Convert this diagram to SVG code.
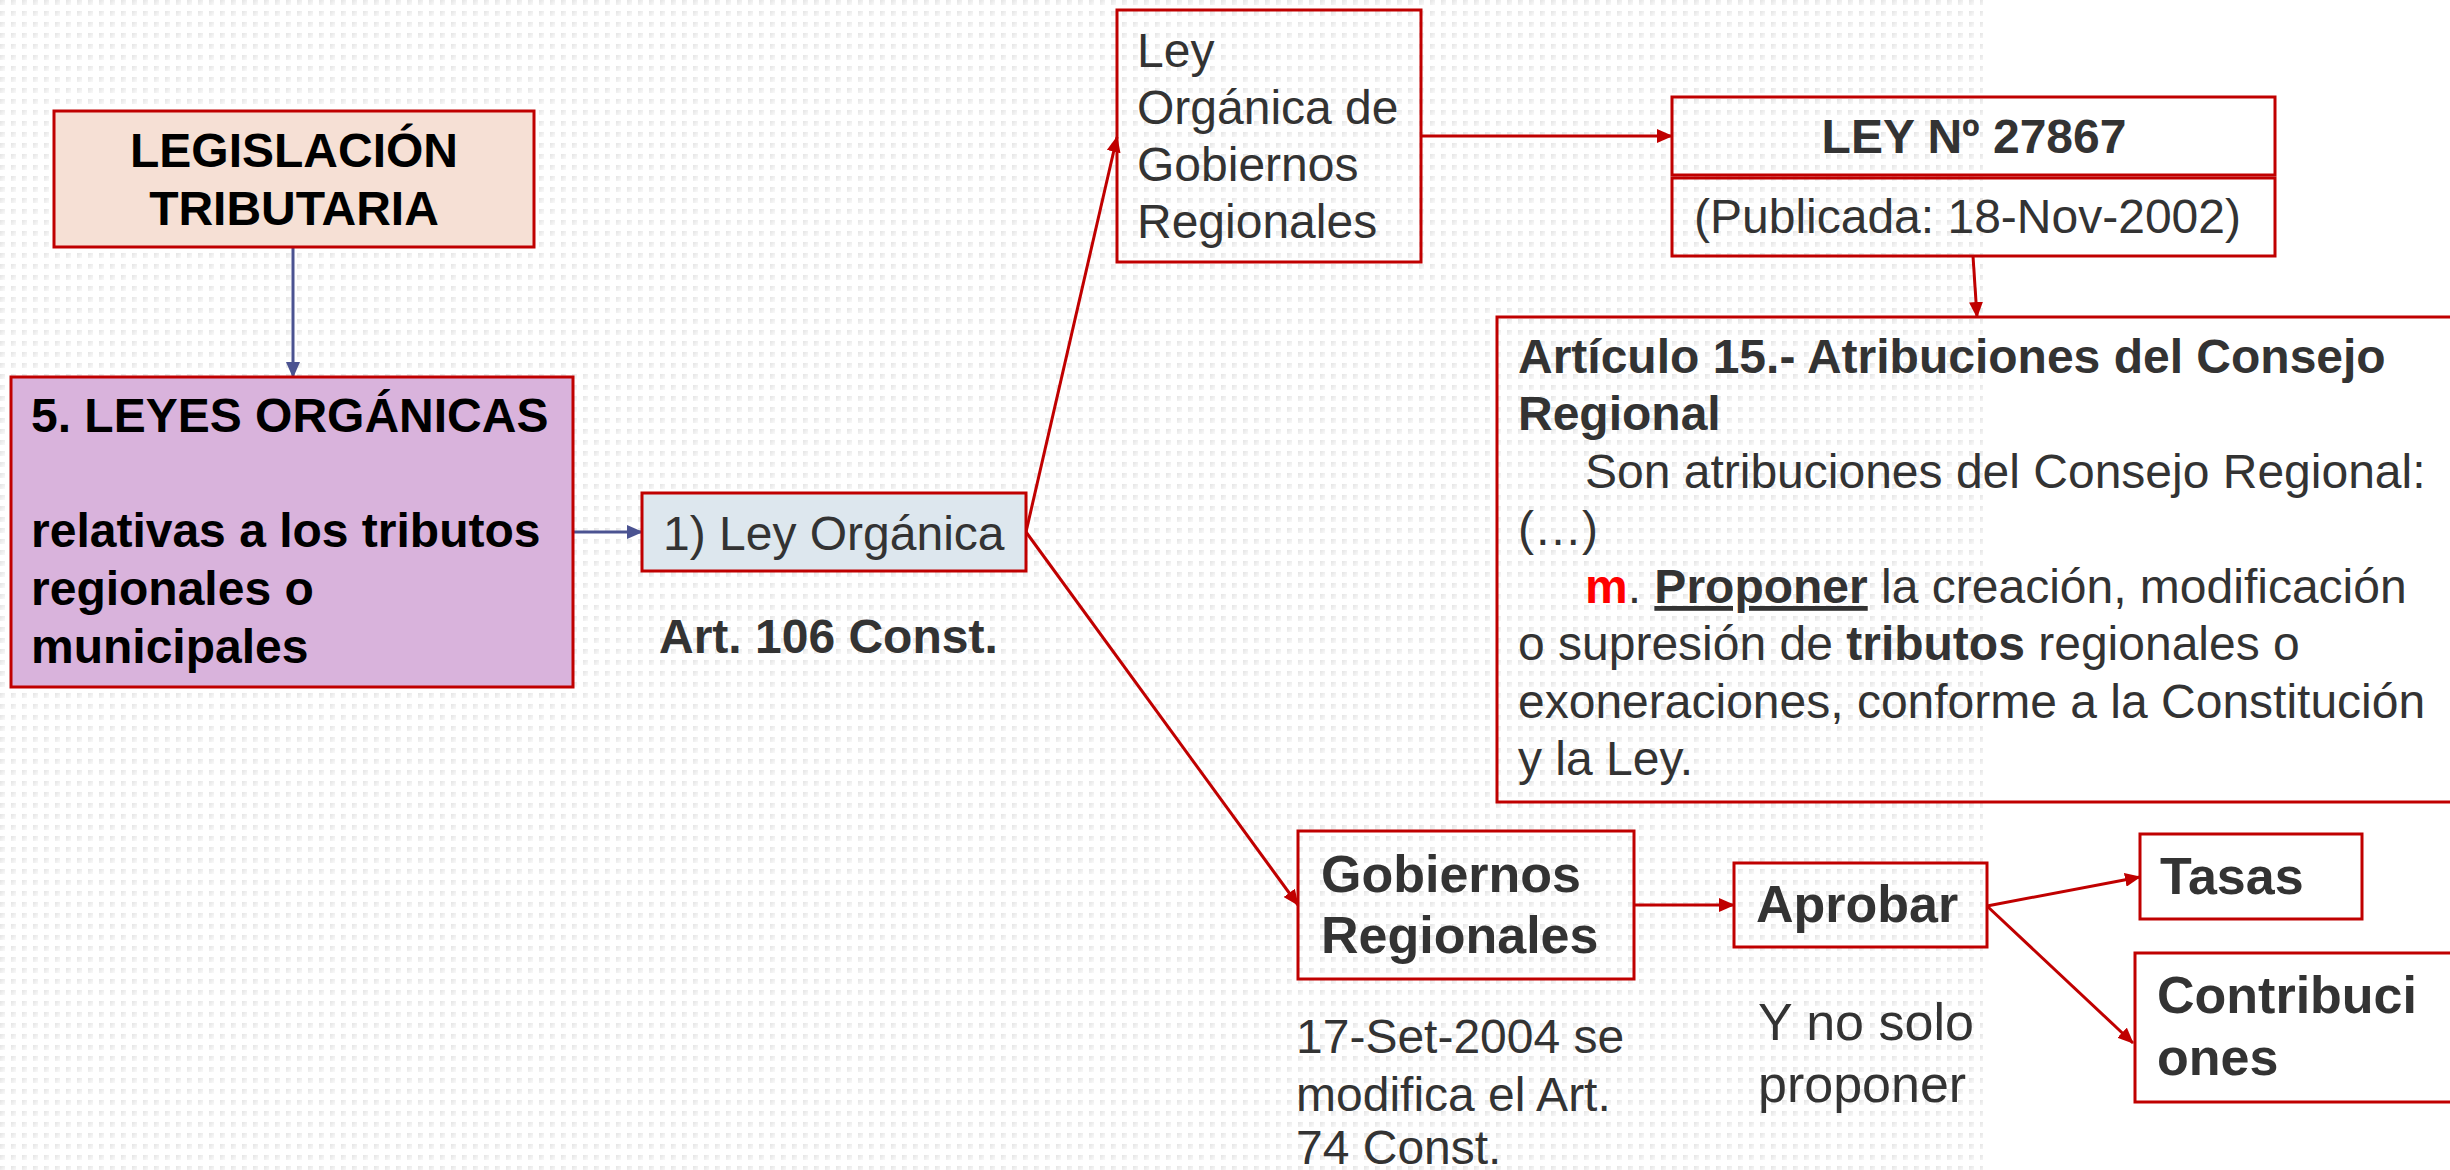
<svg xmlns="http://www.w3.org/2000/svg" width="2450" height="1170" viewBox="0 0 2450 1170">
<style>
text{font-family:"Liberation Sans",Arial,sans-serif;font-size:48px;fill:#333333}
.b{font-weight:bold}
.blk{fill:#000000}
.big{font-size:52px;font-weight:bold}
.mid{font-size:52px}
.box{stroke:#C00000;stroke-width:3;fill:none}
.red{stroke:#C00000;stroke-width:3;fill:none}
.blue{stroke:#4B5391;stroke-width:3;fill:none}
</style>
<defs>
<linearGradient id="dg" x1="0" y1="0" x2="1" y2="1">
<stop offset="0" stop-color="#E4E4E4"/>
<stop offset="1" stop-color="#FAFAFA"/>
</linearGradient>
<pattern id="dots" width="11" height="11" patternUnits="userSpaceOnUse">
<rect x="0" y="0" width="5" height="5" fill="url(#dg)"/>
</pattern>
<marker id="ar" markerUnits="userSpaceOnUse" markerWidth="16" markerHeight="14" refX="15" refY="7" orient="auto">
<path d="M0,0 L16,7 L0,14 z" fill="#C00000"/>
</marker>
<marker id="ab" markerUnits="userSpaceOnUse" markerWidth="16" markerHeight="14" refX="15" refY="7" orient="auto">
<path d="M0,0 L16,7 L0,14 z" fill="#4B5391"/>
</marker>
</defs>
<rect x="0" y="0" width="2450" height="1170" fill="#FFFFFF"/>
<rect x="0" y="0" width="1983" height="1170" fill="url(#dots)"/>

<g id="connectors">
<line class="blue" x1="293" y1="247" x2="293" y2="377" marker-end="url(#ab)"/>
<line class="blue" x1="573" y1="532" x2="642" y2="532" marker-end="url(#ab)"/>
<line class="red" x1="1026" y1="532" x2="1117" y2="137" marker-end="url(#ar)"/>
<line class="red" x1="1026" y1="532" x2="1298" y2="905" marker-end="url(#ar)"/>
<line class="red" x1="1421" y1="136" x2="1672" y2="136" marker-end="url(#ar)"/>
<line class="red" x1="1973" y1="256" x2="1977" y2="317" marker-end="url(#ar)"/>
<line class="red" x1="1634" y1="905" x2="1734" y2="905" marker-end="url(#ar)"/>
<line class="red" x1="1987" y1="906" x2="2140" y2="877" marker-end="url(#ar)"/>
<line class="red" x1="1987" y1="906" x2="2133" y2="1043" marker-end="url(#ar)"/>
</g>

<g id="legislacion">
<rect class="box" x="54" y="111" width="480" height="136" style="fill:#F6E0D5"/>
<text class="b blk" x="294" y="167" text-anchor="middle">LEGISLACIÓN</text>
<text class="b blk" x="294" y="225" text-anchor="middle">TRIBUTARIA</text>
</g>

<g id="leyes-organicas">
<rect class="box" x="11" y="377" width="562" height="310" style="fill:#D9B3DC"/>
<text class="b blk" x="31" y="432">5. LEYES ORGÁNICAS</text>
<text class="b blk" x="31" y="547">relativas a los tributos</text>
<text class="b blk" x="31" y="605">regionales o</text>
<text class="b blk" x="31" y="663">municipales</text>
</g>

<g id="ley-organica-1">
<rect class="box" x="642" y="493" width="384" height="78" style="fill:#DDE7EE"/>
<text x="663" y="550">1) Ley Orgánica</text>
</g>

<g id="art106">
<text class="b" x="659" y="653">Art. 106 Const.</text>
</g>

<g id="lo-gobiernos-regionales">
<rect class="box" x="1117" y="10" width="304" height="252"/>
<text x="1137" y="67">Ley</text>
<text x="1137" y="124">Orgánica de</text>
<text x="1137" y="181">Gobiernos</text>
<text x="1137" y="238">Regionales</text>
</g>

<g id="ley27867">
<rect class="box" x="1672" y="97" width="603" height="78"/>
<text class="b" x="1974" y="153" text-anchor="middle">LEY Nº 27867</text>
</g>

<g id="publicada">
<rect class="box" x="1672" y="178" width="603" height="78"/>
<text x="1694" y="233">(Publicada: 18-Nov-2002)</text>
</g>

<g id="articulo15">
<rect class="box" x="1497" y="317" width="960" height="485"/>
<text class="b" x="1518" y="373">Artículo 15.- Atribuciones del Consejo</text>
<text class="b" x="1518" y="430">Regional</text>
<text x="1585" y="488">Son atribuciones del Consejo Regional:</text>
<text x="1518" y="545">(…)</text>
<text x="1585" y="603"><tspan class="b" style="fill:#FF0000">m</tspan>. <tspan class="b" text-decoration="underline">Proponer</tspan> la creación, modificación</text>
<text x="1518" y="660">o supresión de <tspan class="b">tributos</tspan> regionales o</text>
<text x="1518" y="718">exoneraciones, conforme a la Constitución</text>
<text x="1518" y="775">y la Ley.</text>
</g>

<g id="gobiernos-regionales">
<rect class="box" x="1298" y="831" width="336" height="148"/>
<text class="big" x="1321" y="892">Gobiernos</text>
<text class="big" x="1321" y="953">Regionales</text>
</g>

<g id="nota-2004">
<text x="1296" y="1053">17-Set-2004 se</text>
<text x="1296" y="1111">modifica el Art.</text>
<text x="1296" y="1164">74 Const.</text>
</g>

<g id="aprobar">
<rect class="box" x="1734" y="863" width="253" height="84"/>
<text class="big" x="1756" y="922">Aprobar</text>
</g>

<g id="nota-proponer">
<text class="mid" x="1758" y="1040">Y no solo</text>
<text class="mid" x="1758" y="1102">proponer</text>
</g>

<g id="tasas">
<rect class="box" x="2140" y="834" width="222" height="85"/>
<text class="big" x="2160" y="894">Tasas</text>
</g>

<g id="contribuciones">
<rect class="box" x="2135" y="953" width="330" height="149"/>
<text class="big" x="2157" y="1013">Contribuci</text>
<text class="big" x="2157" y="1075">ones</text>
</g>
</svg>
